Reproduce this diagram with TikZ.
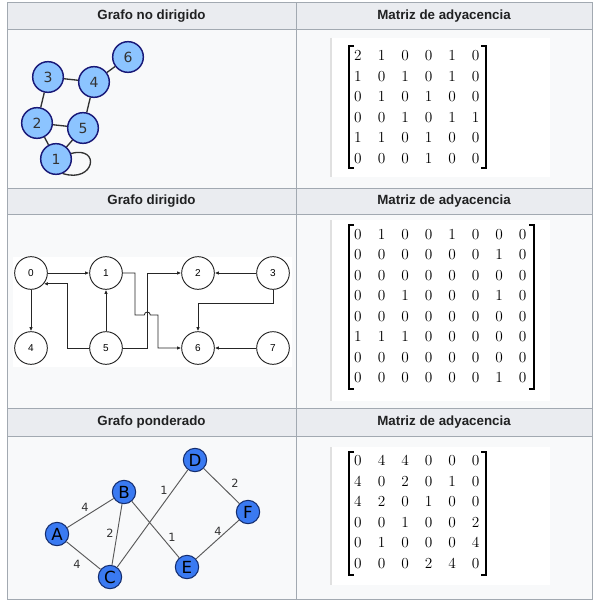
\documentclass[tikz,border=0pt]{standalone}
\usepackage{fontspec}
\setsansfont{Liberation Sans}
\newfontfamily\dejavu{DejaVu Sans}
\usetikzlibrary{arrows.meta, calc, positioning}

\definecolor{tblborder}{HTML}{A2A9B1}
\definecolor{tblhead}{HTML}{EAECF0}
\definecolor{tblcell}{HTML}{F8F9FA}
\definecolor{txtdark}{HTML}{202122}
\definecolor{uglight}{RGB}{140,196,255}
\definecolor{ugnavy}{RGB}{25,25,120}
\definecolor{wblue}{RGB}{58,122,242}
\definecolor{wnavy}{RGB}{20,45,110}

\tikzset{
  head/.style={font=\sffamily\bfseries\fontsize{10}{12}\selectfont, text=txtdark},
  ugnode/.style={circle, draw=ugnavy, line width=1.1pt, fill=uglight, minimum size=23pt, inner sep=0pt,
                 font=\dejavu\fontsize{10.5}{12}\selectfont, text=black!80},
  dgnode/.style={circle, draw=black!85, line width=0.7pt, fill=white, minimum size=24.5pt, inner sep=0pt,
                 font=\sffamily\fontsize{7.5}{9}\selectfont},
  wgnode/.style={circle, draw=wnavy, line width=0.8pt, fill=wblue, minimum size=17.5pt, inner sep=0pt,
                 font=\dejavu\fontsize{12.5}{14}\selectfont},
  entry/.style={font=\rmfamily\fontsize{11.5}{13}\selectfont, inner sep=0pt},
  brk/.style={line width=0.85pt},
  ugedge/.style={draw=black!80, line width=1pt},
  arr/.style={-{Latex[length=3pt,width=2.6pt]}, draw=black!85, line width=0.6pt},
  wedge/.style={draw=black!65, line width=0.7pt},
  weight/.style={font=\dejavu\fontsize{8.5}{10}\selectfont, text=black!80, inner sep=0pt},
}

\begin{document}
\begin{tikzpicture}[x=0.75pt, y=-0.75pt]
\useasboundingbox (0,0) rectangle (596,606);

% table
\fill[tblcell] (7,3) rectangle (592,599);
\foreach \y/\yy in {3/30, 188/214, 408/436}
  \fill[tblhead] (7,\y) rectangle (592,\yy);
\draw[tblborder, line width=0.75pt] (7,3) rectangle (592,599);
\draw[tblborder, line width=0.75pt] (296,3) -- (296,599);
\foreach \y in {30, 188, 214, 408, 436}
  \draw[tblborder, line width=0.75pt] (7,\y) -- (592,\y);

\node[head] (h1) at (151.5,16.5) {Grafo no dirigido};
\node[head] (h2) at (444,16.5) {Matriz de adyacencia};
\node[head] (h3) at (151.5,201) {Grafo dirigido};
\node[head] (h4) at (444,201) {Matriz de adyacencia};
\node[head] (h5) at (151.5,422) {Grafo ponderado};
\node[head] (h6) at (444,422) {Matriz de adyacencia};

% white boxes
\foreach \ya/\yb in {38/177, 220/401, 447/585}{
  \fill[white] (332,\ya) rectangle (550,\yb);
  \draw[black!12, line width=1.2pt] (331,\ya) -- (331,\yb);
}
\fill[white] (13,257) rectangle (292,367);

% undirected graph
\node[ugnode] (u1) at (56,159) {1};
\node[ugnode] (u2) at (37,123) {2};
\node[ugnode] (u3) at (48,77) {3};
\node[ugnode] (u4) at (94,82) {4};
\node[ugnode] (u5) at (83,128) {5};
\node[ugnode] (u6) at (128,57) {6};
\draw[ugedge] (u3) -- (u4) (u4) -- (u6) (u3) -- (u2) (u2) -- (u5)
              (u4) -- (u5) (u2) -- (u1) (u5) -- (u1);
\draw[ugedge] (u1.20) .. controls +(30,-8) and +(32,10) .. (u1.-65);

% matrix 1
\foreach \row [count=\i] in {{2,1,0,0,1,0},{1,0,1,0,1,0},{0,1,0,1,0,0},{0,0,1,0,1,1},{1,1,0,1,0,0},{0,0,0,1,0,0}}
  \foreach \v [count=\j] in \row
    \node[entry] (ma-\i-\j) at ({358+23.5*(\j-1)}, {55.75+20.5*(\i-1)}) {\v};
\draw[brk] (354,46) -- (349,46) -- (349,168) -- (354,168);
\draw[brk] (481,46) -- (486,46) -- (486,168) -- (481,168);

% directed graph
\node[dgnode] (d0) at (31,273) {0};
\node[dgnode] (d1) at (106,273) {1};
\node[dgnode] (d2) at (198,273) {2};
\node[dgnode] (d3) at (273,273) {3};
\node[dgnode] (d4) at (31,348) {4};
\node[dgnode] (d5) at (106,348) {5};
\node[dgnode] (d6) at (198,348) {6};
\node[dgnode] (d7) at (273,348) {7};
\draw[arr] (d0) -- (d1);
\draw[arr] (d0) -- (d4);
\draw[arr] (d5) -- (d1);
\draw[arr] (d3) -- (d2);
\draw[arr] (d7) -- (d6);
\draw[arr] (d5.west) -| ($(d0.-40)+(24,0)$) -- (d0.-40);
\draw[arr] (d5.east) -- ++(25,0) |- (d2.west);
\draw[arr] (d1.east) -| (135,315) -- (144.3,315) arc[start angle=180, end angle=360, radius=3]
           -- (158,315) |- (d6.west);
\draw[arr] (d3.south) -- ++(0,13.5) -| (d6.north);

% matrix 2
\foreach \row [count=\i] in {{0,1,0,0,1,0,0,0},{0,0,0,0,0,0,1,0},{0,0,0,0,0,0,0,0},{0,0,1,0,0,0,1,0},
                             {0,0,0,0,0,0,0,0},{1,1,1,0,0,0,0,0},{0,0,0,0,0,0,0,0},{0,0,0,0,0,0,1,0}}
  \foreach \v [count=\j] in \row
    \node[entry] (mb-\i-\j) at ({358+23.5*(\j-1)}, {234.25+20.5*(\i-1)}) {\v};
\draw[brk] (354,225) -- (349,225) -- (349,389) -- (354,389);
\draw[brk] (529,225) -- (534,225) -- (534,389) -- (529,389);

% weighted graph
\node[wgnode] (A) at (57,534) {A};
\node[wgnode] (B) at (124,492) {B};
\node[wgnode] (C) at (110,577) {C};
\node[wgnode] (D) at (195,460) {D};
\node[wgnode] (E) at (187,567) {E};
\node[wgnode] (F) at (248,512) {F};
\draw[wedge] (A) -- (B) (A) -- (C) (B) -- (C) (B) -- (E) (C) -- (D) (D) -- (F) (E) -- (F);
\node[weight] (wab) at (85,507) {4};
\node[weight] (wac) at (77,564) {4};
\node[weight] (wbc) at (110,533) {2};
\node[weight] (wcd) at (164,490) {1};
\node[weight] (wbe) at (172,537) {1};
\node[weight] (wdf) at (235,483) {2};
\node[weight] (wef) at (218,531) {4};

% matrix 3
\foreach \row [count=\i] in {{0,4,4,0,0,0},{4,0,2,0,1,0},{4,2,0,1,0,0},{0,0,1,0,0,2},{0,1,0,0,0,4},{0,0,0,2,4,0}}
  \foreach \v [count=\j] in \row
    \node[entry] (mc-\i-\j) at ({358+23.5*(\j-1)}, {460.75+20.5*(\i-1)}) {\v};
\draw[brk] (354,452) -- (349,452) -- (349,575) -- (354,575);
\draw[brk] (481,452) -- (486,452) -- (486,575) -- (481,575);
\end{tikzpicture}
\end{document}
